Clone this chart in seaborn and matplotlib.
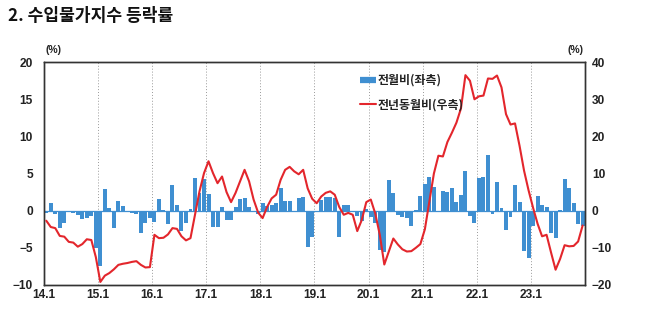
import numpy as np
import pandas as pd
import matplotlib
matplotlib.use("Agg")
import matplotlib.pyplot as plt
from matplotlib.lines import Line2D
import seaborn as sns

# Import price index, monthly change rates (%), Jan 2014 - Dec 2023
mom = [-0.3, 1.0, -0.5, -2.4, -1.6, -0.1, -0.3, -0.6, -1.1, -1.0, -0.7, -5.0,
       -7.5, 2.9, 0.4, -2.3, 1.3, 0.6, -0.2, -0.3, -0.4, -3.0, -1.6, -1.0,
       -1.5, 1.6, 0.1, -1.8, 3.5, 0.8, -2.7, -1.6, 0.2, 4.4, 2.4, 4.2,
       2.2, -2.2, -2.2, 0.5, -1.3, -1.2, 0.5, 1.6, 1.7, 0.5, -0.1, -0.4,
       1.0, 0.6, 0.7, 1.1, 3.0, 1.3, 1.3, -0.2, 1.7, 1.8, -4.9, -3.6,
       -0.2, 1.5, 1.8, 1.8, 1.7, -3.6, 0.7, 0.7, -0.2, -0.7, -1.4, 0.2,
       -0.9, -1.6, -5.3, -5.6, 4.1, 2.4, -0.6, -0.9, -1.0, -2.1, 0.1, 2.0,
       3.6, 4.5, 3.2, -0.2, 2.7, 2.5, 3.1, 1.2, 2.1, 5.3, -0.7, -1.6,
       4.4, 4.6, 7.5, -0.5, 3.9, 0.4, -2.6, -0.8, 3.4, 1.2, -5.4, -6.4,
       -2.0, 2.0, 0.7, 0.5, -3.0, -3.7, 0.1, 4.3, 3.0, 1.0, -1.8, -2.0]

yoy = [-2.7, -4.4, -4.7, -6.8, -7.0, -8.4, -8.6, -9.7, -9.0, -7.7, -7.9, -12.5,
       -19.2, -17.5, -16.8, -15.8, -14.6, -14.3, -14.1, -13.8, -13.6, -14.6, -15.3, -15.2,
       -6.5, -7.4, -7.3, -6.4, -4.7, -4.9, -6.9, -8.0, -7.4, -1.1, 5.2, 10.1,
       13.3, 10.1, 7.4, 9.2, 5.0, 2.3, 4.8, 7.9, 11.0, 7.9, 3.0, -0.5,
       -2.0, 1.0, 3.3, 4.3, 8.3, 11.0, 11.8, 10.6, 9.8, 11.0, 6.0, 3.2,
       2.0, 3.8, 4.8, 5.2, 4.3, 1.0, -1.1, -0.6, -1.1, -5.5, -2.5, 2.3,
       3.0, -0.8, -6.5, -14.5, -11.0, -7.5, -9.1, -10.4, -11.0, -10.9, -10.0, -9.0,
       -5.0, 2.5, 10.0, 14.8, 14.6, 18.5, 21.0, 23.7, 27.5, 36.5, 35.0, 30.0,
       30.8, 31.0, 35.6, 35.5, 36.4, 33.2, 26.0, 23.2, 23.5, 17.5, 10.8, 5.5,
       0.8, -3.5, -6.9, -6.5, -11.3, -15.9, -13.0, -9.3, -9.6, -9.5, -8.3, -4.0]

year_labels = ["14.1", "15.1", "16.1", "17.1", "18.1", "19.1", "20.1", "21.1", "22.1", "23.1"]
title = "2. 수입물가지수 등락률"
legend_labels = ["전월비(좌측)", "전년동월비(우측)"]

bar_color = "#3F8FD1"
line_color = "#E3262C"
text_color = "#222222"
num_family = ["Liberation Sans", "DejaVu Sans"]

df = pd.DataFrame({"month": np.arange(len(mom)), "mom": mom, "yoy": yoy})

sns.set_theme(style="white")
plt.rcParams["font.family"] = ["Noto Sans CJK KR", "DejaVu Sans"]

fig = plt.figure(figsize=(6.47, 3.36), dpi=100)
ax = fig.add_axes([0.068, 0.152, 0.836, 0.663])

sns.barplot(data=df, x="month", y="mom", ax=ax, color=bar_color,
            saturation=1, width=0.88, linewidth=0, zorder=2)
ax.axhline(0, color=bar_color, lw=0.9, zorder=2)

ax2 = ax.twinx()
sns.lineplot(data=df, x="month", y="yoy", ax=ax2, color=line_color,
             linewidth=1.5, zorder=3)

n = len(mom)
ax.set_xlim(-0.5, n - 0.5)
ax.set_ylim(-10, 20)
ax2.set_ylim(-20, 40)
ax.set_yticks([-10, -5, 0, 5, 10, 15, 20])
ax2.set_yticks([-20, -10, 0, 10, 20, 30, 40])

tick_pos = [-0.5 + 12 * k for k in range(len(year_labels))]
ax.set_xticks(tick_pos)
ax.set_xticklabels(year_labels)
ax.set_xlabel("")
ax.set_ylabel("")
ax2.set_ylabel("")
ax.grid(False)
ax2.grid(False)
ax.xaxis.grid(True, linestyle=(0, (1, 2)), color="#9A9A9A", linewidth=0.7)
ax.set_axisbelow(True)

for lab in ax.get_xticklabels() + ax.get_yticklabels() + ax2.get_yticklabels():
    lab.set_fontfamily(num_family)
    lab.set_fontweight("bold")
    lab.set_fontsize(8.6)
    lab.set_color(text_color)
ax.tick_params(axis="both", length=0)
ax.tick_params(axis="y", pad=8)
ax.tick_params(axis="x", pad=3)
ax2.tick_params(axis="y", length=0, pad=5)

for a in (ax, ax2):
    for s in a.spines.values():
        s.set_visible(True)
        s.set_color("#333333")
        s.set_linewidth(1.0)

ax.text(0.002, 1.03, "(%)", transform=ax.transAxes, ha="left", va="bottom",
        fontsize=7.5, fontweight="bold", color=text_color, family=num_family)
ax.text(0.998, 1.03, "(%)", transform=ax.transAxes, ha="right", va="bottom",
        fontsize=7.5, fontweight="bold", color=text_color, family=num_family)

handles = [Line2D([0], [0], color=bar_color, lw=4.5, solid_capstyle="butt"),
           Line2D([0], [0], color=line_color, lw=1.5)]
leg = ax2.legend(handles, legend_labels, loc="upper left",
                 bbox_to_anchor=(0.565, 0.995), frameon=False,
                 handlelength=1.3, handletextpad=0.15, labelspacing=0.95,
                 prop={"family": ["Noto Sans CJK KR", "DejaVu Sans"],
                       "size": 8.6, "weight": "bold"})
for t in leg.get_texts():
    t.set_color(text_color)

fig.text(0.012, 0.952, title, ha="left", va="center", fontsize=12.3,
         fontweight="bold", color="#111111")

fig.savefig("out.png", dpi=100)
